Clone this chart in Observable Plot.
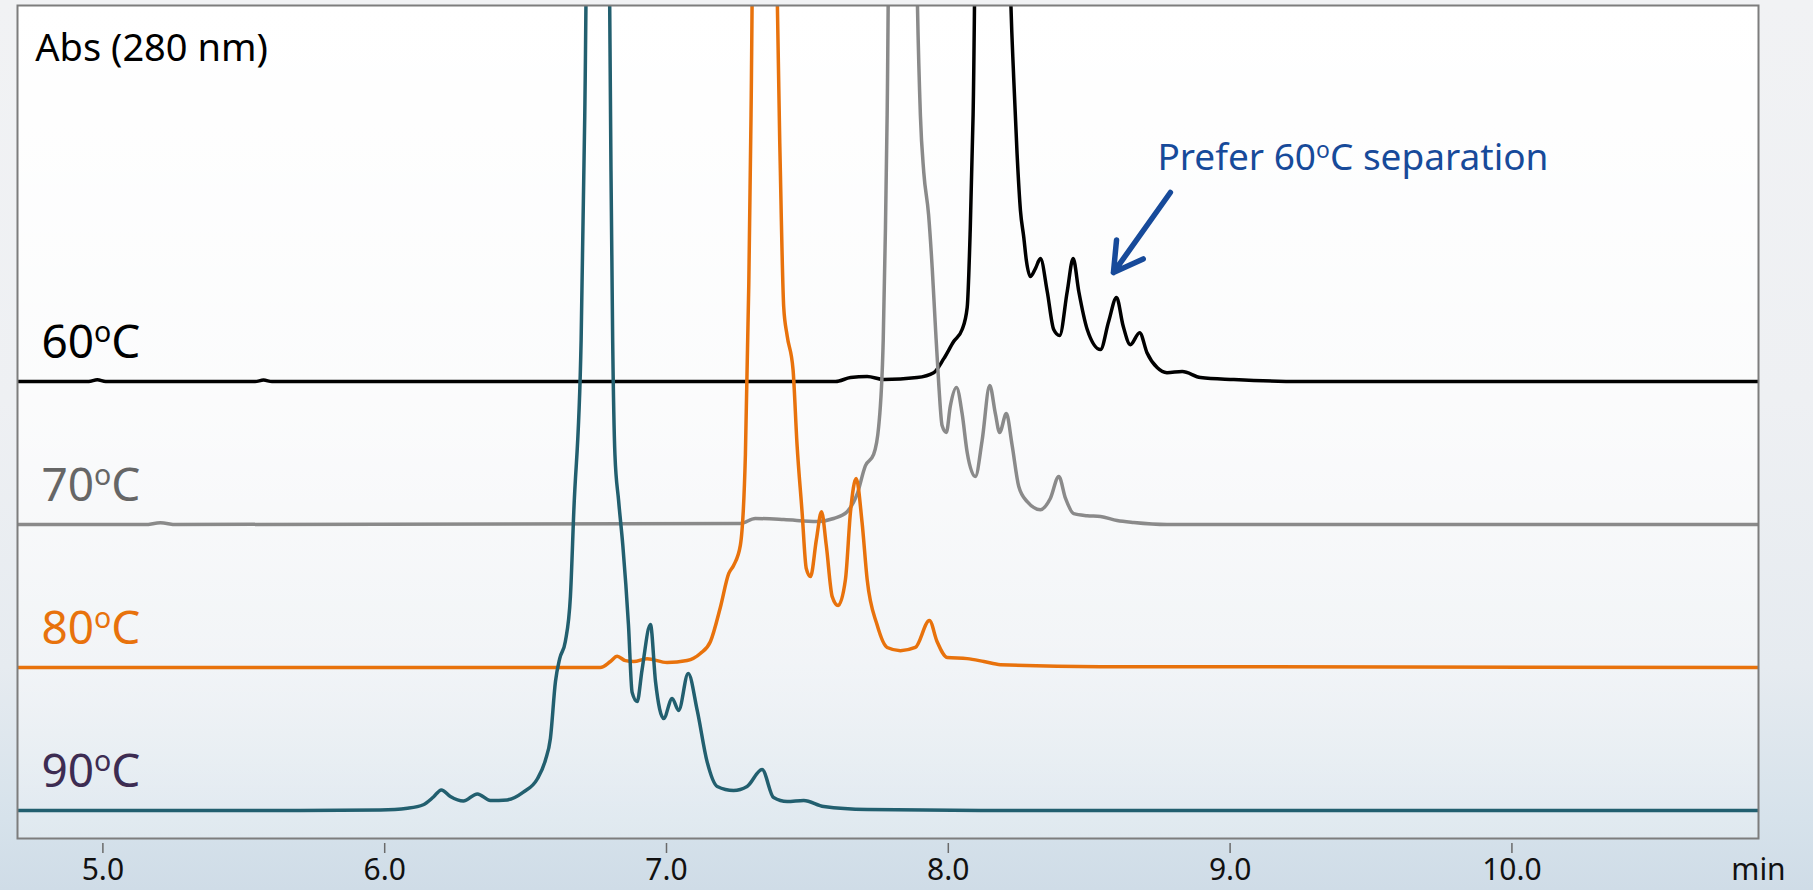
<!DOCTYPE html>
<html>
<head>
<meta charset="utf-8">
<script src="https://cdn.jsdelivr.net/npm/d3@7"></script>
<script src="https://cdn.jsdelivr.net/npm/@observablehq/plot@0.6"></script>
<style>
  html, body { margin: 0; padding: 0; overflow: hidden; }
  body {
    width: 1813px; height: 890px;
    background: linear-gradient(to bottom, #f1f2f4 0%, #eef0f3 45%, #e6ebf0 75%, #d6e2eb 92%, #cfdce7 100%);
    font-family: "Noto Sans", sans-serif;
  }
  svg { display: block; }
</style>
</head>
<body>
<div id="chart"></div>
<script>
// ---- data (retention time in min, absorbance signal above each trace's own baseline, mAU) ----
const t60 = [4.70, 4.95, 4.98, 5.01, 5.54, 5.57, 5.60, 7.60, 7.653, 7.712, 7.771, 7.889, 7.948, 7.984, 8.019, 8.049, 8.067, 8.078, 8.088, 8.156, 8.220, 8.232, 8.244, 8.256, 8.268, 8.277, 8.291, 8.309, 8.327, 8.351, 8.374, 8.395, 8.422, 8.443, 8.463, 8.493, 8.540, 8.569, 8.597, 8.620, 8.646, 8.679, 8.705, 8.741, 8.776, 8.830, 8.895, 9.013, 9.25, 10.875];
const s60 = [0, 0, 0.6, 0, 0, 0.5, 0, 0, 1.4, 1.75, 0.7, 1.4, 3.1, 8.0, 14.0, 18.2, 25.9, 53.8, 93.4, 1000, 140, 106.3, 79.7, 59.8, 50.3, 42.3, 36.7, 39.5, 43.0, 31.5, 18.2, 16.1, 31.5, 43.0, 31.5, 18.2, 11.2, 21.0, 29.4, 19.6, 12.9, 17.1, 10.1, 4.9, 3.1, 3.5, 1.4, 0.7, 0, 0];

const t70 = [4.70, 5.15, 5.204, 5.26, 7.262, 7.315, 7.416, 7.534, 7.593, 7.641, 7.676, 7.706, 7.735, 7.753, 7.769, 7.777, 7.783, 7.834, 7.889, 7.901, 7.913, 7.930, 7.943, 7.954, 7.966, 7.978, 7.993, 8.007, 8.029, 8.049, 8.067, 8.096, 8.120, 8.147, 8.167, 8.182, 8.206, 8.226, 8.250, 8.280, 8.327, 8.362, 8.392, 8.416, 8.445, 8.493, 8.540, 8.599, 8.658, 8.776, 10.875];
const s70 = [0, 0, 0.6, 0, 0.35, 2.1, 1.75, 1.05, 2.1, 4.5, 10.5, 20.6, 24.5, 34.3, 64.3, 103.8, 143.4, 1000, 190, 143.0, 123.1, 108.4, 89.5, 69.6, 49.3, 34.6, 32.2, 41.3, 47.9, 38.8, 25.2, 16.8, 29.4, 48.6, 38.8, 32.2, 38.8, 28.0, 13.3, 8.0, 5.2, 9.1, 16.8, 9.1, 3.8, 3.1, 2.8, 1.4, 0.7, 0, 0];

const t80 = [4.70, 6.765, 6.801, 6.825, 6.854, 6.884, 6.931, 7.002, 7.073, 7.120, 7.156, 7.191, 7.221, 7.238, 7.262, 7.280, 7.292, 7.300, 7.351, 7.392, 7.404, 7.416, 7.428, 7.449, 7.463, 7.481, 7.496, 7.511, 7.532, 7.550, 7.567, 7.588, 7.609, 7.635, 7.653, 7.673, 7.694, 7.712, 7.747, 7.783, 7.830, 7.883, 7.933, 7.960, 7.996, 8.067, 8.126, 8.185, 8.54, 10.875];
const s80 = [0, 0, 2.1, 3.9, 2.4, 2.1, 3.1, 1.75, 2.45, 4.9, 9.1, 21.0, 32.9, 35.7, 42.7, 74.5, 133.9, 193.4, 900, 240, 173.8, 125.9, 116.1, 104.2, 78.3, 54.5, 34.6, 31.8, 44.8, 54.5, 42.7, 24.8, 21.7, 30.8, 54.5, 66.1, 50.7, 30.8, 15.0, 7.0, 5.9, 7.0, 16.4, 9.1, 3.5, 3.1, 2.1, 1.0, 0.3, 0];

const t90 = [4.70, 5.70, 5.985, 6.081, 6.137, 6.173, 6.201, 6.233, 6.279, 6.329, 6.375, 6.435, 6.492, 6.542, 6.570, 6.588, 6.606, 6.621, 6.641, 6.659, 6.671, 6.697, 6.710, 6.752, 6.797, 6.803, 6.809, 6.817, 6.830, 6.845, 6.865, 6.878, 6.896, 6.913, 6.943, 6.961, 6.990, 7.020, 7.043, 7.077, 7.109, 7.144, 7.180, 7.238, 7.286, 7.339, 7.380, 7.428, 7.487, 7.558, 7.712, 8.185, 10.875];
const s90 = [0, 0, 0.2, 0.8, 2.0, 4.7, 7.2, 4.9, 3.3, 5.8, 3.5, 3.7, 6.4, 11.1, 17.5, 25.2, 45.1, 53.1, 59.1, 74.8, 104.5, 164.3, 243.4, 700, 300, 223.8, 164.3, 124.5, 108.4, 92.7, 65.0, 41.3, 38.1, 49.0, 65.0, 45.1, 32.2, 39.2, 35.0, 47.9, 35.0, 17.1, 8.4, 7.0, 8.4, 14.3, 4.5, 3.1, 3.5, 1.4, 0.35, 0, 0];

const seriesNames = ["60oC", "70oC", "80oC", "90oC"];
const seriesOffsets = [150, 100, 50, 0];          // vertical stacking offset of each trace (mAU)
const lineColors = ["#000000", "#8a8a8a", "#e8720c", "#225f6f"];
const labelColors = ["#000000", "#666666", "#e8720c", "#3d2c52"];
const xTicks = [5, 6, 7, 8, 9, 10];
const xDomain = [4.697, 10.875];
const yDomain = [-9.8, 281.5];
const yTitle = "Abs (280 nm)";
const xUnit = "min";
const note = "Prefer 60oC separation";

// ---- build tables ----
const times = [t60, t70, t80, t90];
const signals = [s60, s70, s80, s90];
const tables = times.map((ts, i) => ts.map((t, j) => ({t, v: seriesOffsets[i] + signals[i][j]})));

const font = "Noto Sans";
const blue = "#174a9a";

const marks = [
  Plot.frame({fill: "url(#plotBg)"}),
  // draw black first, teal last
  ...tables.map((rows, i) => Plot.line(rows, {
    x: "t", y: "v", stroke: lineColors[i], strokeWidth: 3.5, curve: "monotone-x", clip: true
  })),
  Plot.frame({stroke: "#7d7d7d", strokeWidth: 2}),
  Plot.axisX({
    ticks: xTicks, tickFormat: d => d.toFixed(1), tickSize: 10, tickPadding: 5, dy: 5,
    fontSize: 30, fontFamily: font, stroke: "#6a6a6a", strokeWidth: 1.5, fill: "#111", label: null
  }),
  Plot.text([xUnit], {x: xDomain[1], frameAnchor: "bottom", dy: 41, fontSize: 30, fontFamily: font,
    textAnchor: "middle", lineAnchor: "bottom", fill: "#111"}),
  Plot.text([yTitle], {x: 4.760, y: 262.2, fontSize: 38, fontFamily: font,
    textAnchor: "start", lineAnchor: "bottom", fill: "#000"}),
  ...seriesNames.map((name, i) => Plot.text([name], {
    x: 4.782, y: seriesOffsets[i] + 8.3, fontSize: 46, fontFamily: font,
    textAnchor: "start", lineAnchor: "bottom", fill: labelColors[i]
  })),
  Plot.text([note], {x: 8.742, y: 223.8, fontSize: 37, fontFamily: font,
    textAnchor: "start", lineAnchor: "bottom", fill: blue}),
  Plot.arrow([0], {x1: 8.788, y1: 216.1, x2: 8.586, y2: 188.1, stroke: blue, strokeWidth: 5.5, headLength: 24})
];

const svg = Plot.plot({
  width: 1813, height: 890,
  marginLeft: 17, marginRight: 55, marginTop: 5, marginBottom: 52,
  x: {domain: xDomain},
  y: {domain: yDomain, axis: null},
  style: {background: "transparent", fontFamily: font, overflow: "visible"},
  marks
});

// gradient for plot area background
const defs = document.createElementNS("http://www.w3.org/2000/svg", "defs");
defs.innerHTML = `<linearGradient id="plotBg" x1="0" y1="0" x2="0" y2="1">
  <stop offset="0" stop-color="#ffffff" stop-opacity="1"/>
  <stop offset="0.5" stop-color="#ffffff" stop-opacity="0.75"/>
  <stop offset="1" stop-color="#ffffff" stop-opacity="0.25"/>
</linearGradient>`;
svg.insertBefore(defs, svg.firstChild);

// superscript "o" in the degree labels
const NS = "http://www.w3.org/2000/svg";
svg.querySelectorAll("text").forEach(el => {
  const s = el.textContent;
  const m = s.match(/^(.*\d)o(C.*)$/);
  if (!m) return;
  const g = el.closest("[font-size]");
  const fs = g ? parseFloat(g.getAttribute("font-size")) : 40;
  while (el.firstChild) el.removeChild(el.firstChild);
  const a = document.createElementNS(NS, "tspan"); a.textContent = m[1];
  const o = document.createElementNS(NS, "tspan"); o.textContent = "o";
  o.setAttribute("font-size", (0.62 * fs).toFixed(1));
  o.setAttribute("dy", (-0.34 * fs).toFixed(1));
  const c = document.createElementNS(NS, "tspan"); c.textContent = m[2];
  c.setAttribute("dy", (0.34 * fs).toFixed(1));
  el.append(a, o, c);
});

document.getElementById("chart").appendChild(svg);
</script>
</body>
</html>
